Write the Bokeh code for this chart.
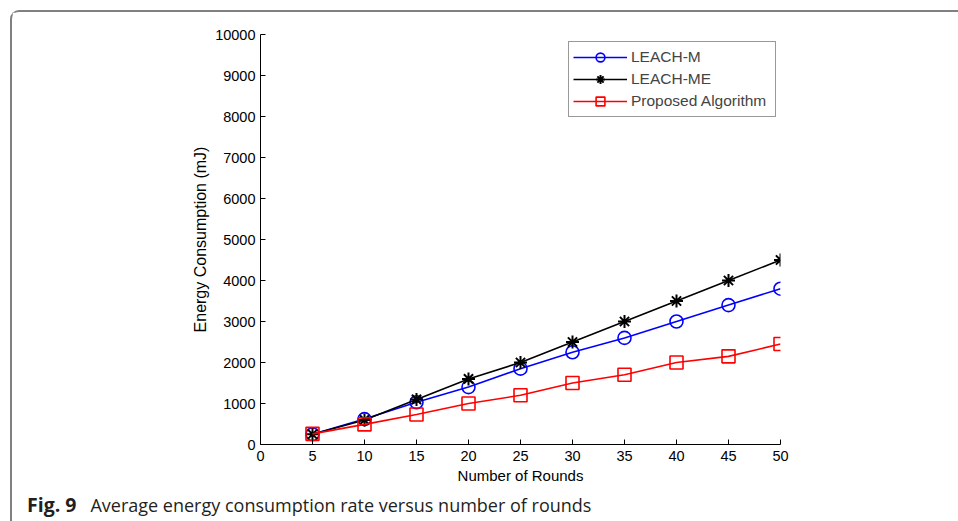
from bokeh.plotting import figure
from bokeh.models import Legend, LegendItem, FixedTicker, Div
from bokeh.layouts import column
from bokeh.embed import file_html
from bokeh.resources import INLINE

rounds = [5, 10, 15, 20, 25, 30, 35, 40, 45, 50]
leach_m = [250, 620, 1030, 1400, 1850, 2250, 2600, 3000, 3400, 3800]
leach_me = [250, 600, 1100, 1600, 2000, 2500, 3000, 3500, 4000, 4500]
proposed = [260, 490, 730, 1000, 1200, 1500, 1700, 2000, 2150, 2450]

x_ticks = [0, 5, 10, 15, 20, 25, 30, 35, 40, 45, 50]
y_ticks = [0, 1000, 2000, 3000, 4000, 5000, 6000, 7000, 8000, 9000, 10000]

FONT = "Liberation Sans"

p = figure(frame_width=520, frame_height=410, x_range=(0, 50), y_range=(0, 10000),
           output_backend="svg", toolbar_location=None,
           min_border_left=248, min_border_right=178,
           min_border_top=22, min_border_bottom=46)
p.outline_line_color = None
p.grid.visible = False
p.background_fill_color = "white"
p.border_fill_color = "white"

for ax in (p.xaxis, p.yaxis):
    ax.major_tick_in = 5
    ax.major_tick_out = 0
    ax.minor_tick_line_color = None
    ax.axis_line_color = "#000000"
    ax.major_tick_line_color = "#000000"
    ax.major_label_text_font = FONT
    ax.major_label_text_font_size = "14.5px"
    ax.major_label_text_color = "#000000"
    ax.axis_label_text_font = FONT
    ax.axis_label_text_font_style = "normal"
    ax.axis_label_text_color = "#000000"

p.xaxis.axis_label_text_font_size = "15px"
p.yaxis.axis_label_text_font_size = "16px"
p.xaxis.ticker = FixedTicker(ticks=x_ticks)
p.yaxis.ticker = FixedTicker(ticks=y_ticks)
p.xaxis.axis_label = "Number of Rounds"
p.yaxis.axis_label = "Energy Consumption (mJ)"
p.xaxis.major_label_standoff = 6
p.yaxis.major_label_standoff = 5
p.xaxis.axis_label_standoff = 3
p.yaxis.axis_label_standoff = 3

l1 = p.line(rounds, leach_m, line_color="#0000ff", line_width=1.6)
m1 = p.scatter(rounds, leach_m, marker="circle", size=13, fill_color=None,
               line_color="#0000ff", line_width=1.6)
l2 = p.line(rounds, leach_me, line_color="#000000", line_width=1.6)
m2 = p.scatter(rounds, leach_me, marker="asterisk", size=13,
               line_color="#000000", line_width=2)
l3 = p.line(rounds, proposed, line_color="#ff0000", line_width=1.6)
m3 = p.scatter(rounds, proposed, marker="square", size=13, fill_color=None,
               line_color="#ff0000", line_width=1.6)

legend = Legend(items=[
    LegendItem(label="LEACH-M", renderers=[l1, m1]),
    LegendItem(label="LEACH-ME", renderers=[l2, m2]),
    LegendItem(label="Proposed Algorithm", renderers=[l3, m3]),
], location=(308, 327))
legend.label_text_font = FONT
legend.label_text_font_size = "15.5px"
legend.glyph_width = 54
legend.glyph_height = 22
legend.label_height = 22
legend.label_width = 140
legend.label_standoff = 4
legend.spacing = 0
legend.padding = 4
legend.margin = 0
legend.border_line_color = "#333333"
legend.border_line_width = 1
legend.background_fill_alpha = 1
p.add_layout(legend, "center")

caption = Div(
    text=('<div style="font-family:\'Open Sans\';font-size:18px;line-height:24px;'
          'color:#231f20;padding-top:3px;padding-left:15px;white-space:nowrap;">'
          '<b style="font-size:19.5px;">Fig. 9</b><span style="margin-left:14px;">'
          'Average energy consumption rate versus number of rounds</span></div>'),
    width=946, height=31, margin=0)

layout = column(p, caption, spacing=0, margin=(10, 0, 0, 10),
                styles={"border-top": "2px solid #808080",
                        "border-left": "2px solid #808080",
                        "border-top-left-radius": "9px"})

open("out.html", "w").write(file_html(layout, INLINE))
